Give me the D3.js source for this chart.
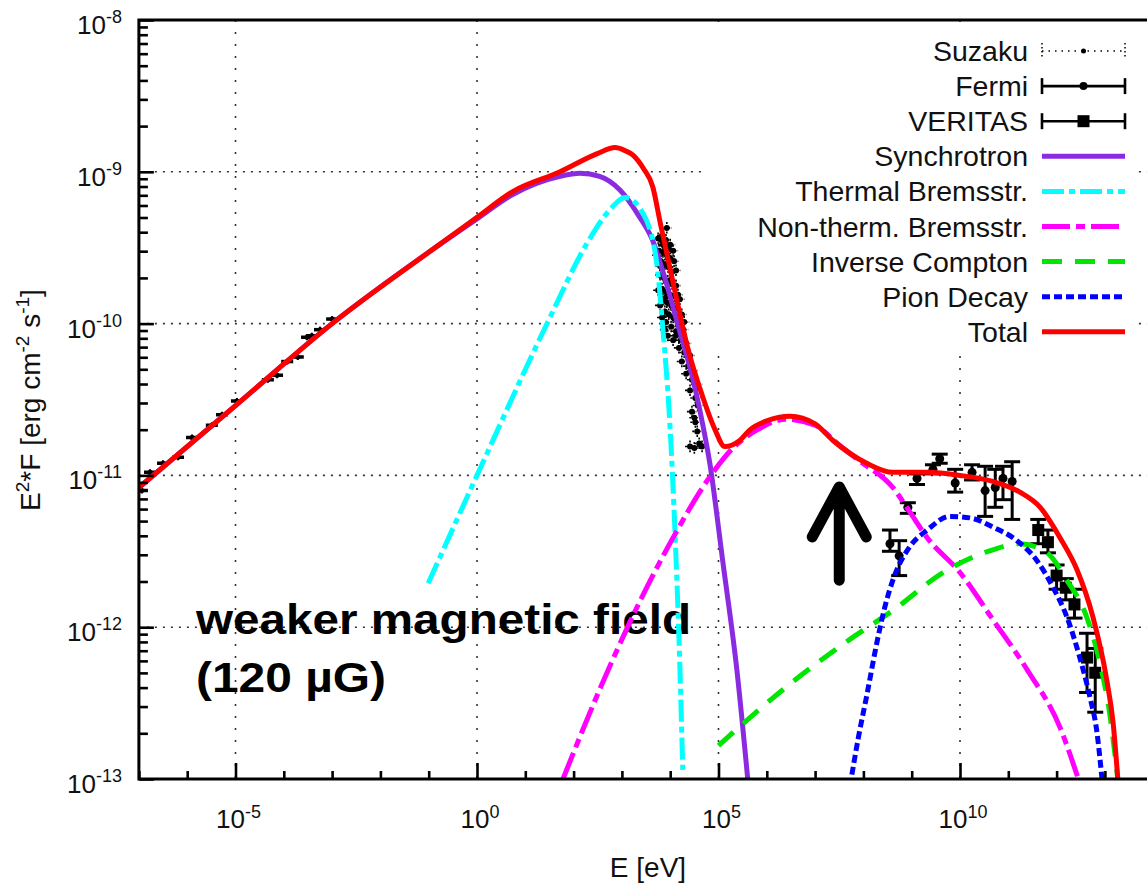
<!DOCTYPE html>
<html>
<head>
<meta charset="utf-8">
<script src="https://cdn.jsdelivr.net/npm/d3@7"></script>
<style>
  body { margin: 0; background: #fff; }
  svg { display: block; font-family: "Liberation Sans", Arial, Helvetica, sans-serif; }
</style>
</head>
<body>
<svg id="chart" width="1147" height="888"></svg>
<script>
// all values are log10 (E in eV, E^2F in erg cm^-2 s^-1)

// radio points (low energy end)
const radioLogE = [-6.94, -6.77, -6.50, -6.19, -5.90, -5.49, -5.28, -4.97, -4.33, -4.14, -3.93, -3.71, -3.52, -3.42, -3.25, -3.00];
const radioLogF = [-11.10, -10.98, -10.92, -10.88, -10.75, -10.67, -10.60, -10.51, -10.37, -10.34, -10.25, -10.22, -10.09, -10.08, -10.04, -9.97];

// Suzaku X-ray points
const suzakuLogE = [3.93, 3.81, 3.87, 3.93, 3.77, 3.85, 3.93, 4.00, 3.81, 3.89, 3.97, 4.04, 3.79, 3.87, 3.95, 4.04,
  3.83, 3.91, 4.00, 4.08, 3.85, 3.93, 4.02, 4.10, 3.89, 3.97, 4.06, 4.14, 4.20, 4.02, 4.12,
  4.27, 4.12, 4.22, 4.33, 4.18, 4.29, 4.41, 4.24, 4.37, 4.47, 4.33, 4.45, 4.56, 4.41, 4.52, 4.57,
  4.45, 4.50, 4.52, 4.56, 4.41, 4.50, 4.60, 4.66,
  3.75, 3.83, 3.91, 4.00, 4.06, 3.73, 3.79, 4.08, 4.12, 3.75, 4.12, 4.16, 3.79, 4.20, 3.83, 3.91,
  4.24, 3.95, 4.06, 4.29, 3.85, 3.97, 4.02, 3.93, 3.89];
const suzakuLogF = [-9.37, -9.45, -9.48, -9.50, -9.52, -9.53, -9.55, -9.57, -9.59, -9.61, -9.63, -9.66, -9.68, -9.70, -9.72, -9.74,
  -9.77, -9.79, -9.81, -9.82, -9.84, -9.86, -9.88, -9.90, -9.92, -9.94, -9.96, -9.98, -10.01, -10.02, -10.05,
  -10.04, -10.08, -10.11, -10.13, -10.16, -10.19, -10.21, -10.25, -10.28, -10.31, -10.33, -10.37, -10.40, -10.44, -10.49, -10.54,
  -10.58, -10.62, -10.65, -10.71, -10.81, -10.82, -10.79, -10.81,
  -9.44, -9.42, -9.45, -9.48, -9.52, -9.55, -9.62, -9.59, -9.65, -9.78, -9.75, -9.81, -9.88, -9.84, -9.96, -9.99,
  -9.94, -10.08, -10.11, -9.99, -9.48, -9.51, -9.71, -9.82, -10.04];

// Fermi
const fermiLogE  = [8.55, 8.74, 8.92, 9.11, 9.44, 9.58, 9.90, 10.25, 10.52, 10.73, 10.89, 11.08];
const fermiLogF  = [-11.45, -11.53, -11.21, -11.02, -10.96, -10.89, -11.05, -10.98, -11.10, -11.08, -11.02, -11.04];
const fermiLogHi = [-11.36, -11.43, -11.18, -10.99, -10.93, -10.86, -10.96, -10.93, -10.94, -10.96, -10.94, -10.91];
const fermiLogLo = [-11.50, -11.66, -11.25, -11.06, -10.99, -10.92, -11.11, -11.03, -11.27, -11.21, -11.16, -11.29];

// VERITAS
const veritasLogE  = [11.62, 11.82, 12.00, 12.19, 12.37, 12.63, 12.80];
const veritasLogF  = [-11.36, -11.44, -11.66, -11.74, -11.85, -12.20, -12.30];
const veritasLogHi = [-11.29, -11.36, -11.59, -11.68, -11.75, -12.04, -12.14];
const veritasLogLo = [-11.45, -11.51, -11.75, -11.82, -11.94, -12.43, -12.56];

// model curves
const synchLogE = [-7, -5, -3, -1, 0, 0.74, 1.72, 2.13, 2.54, 2.96, 3.37, 3.62, 3.89, 4.16, 4.45, 4.62, 4.82, 5.09, 5.38, 5.62];
const synchLogF = [-11.08, -10.54, -10.0, -9.53, -9.31, -9.15, -9.03, -9.01, -9.03, -9.12, -9.30, -9.44, -9.70, -10.01, -10.34, -10.58, -10.92, -11.57, -12.28, -13.05];

const thermLogE = [-1.01, 0, 1.45, 2.28, 2.75, 3.07, 3.43, 3.72, 3.85, 4.00, 4.10, 4.20, 4.26];
const thermLogF = [-11.71, -11.0, -10.0, -9.47, -9.25, -9.17, -9.27, -9.60, -10.04, -10.70, -11.38, -12.26, -12.94];

const nonthLogE = [1.78, 2.54, 3.31, 4.06, 4.82, 5.30, 5.80, 6.40, 7.00, 7.50, 7.90, 8.61, 8.96, 9.32, 10.0, 10.68, 11.39, 12.07, 12.45];
const nonthLogF = [-13.0, -12.41, -11.87, -11.41, -11.01, -10.82, -10.70, -10.63, -10.67, -10.80, -10.90, -11.08, -11.24, -11.41, -11.64, -11.95, -12.28, -12.66, -13.0];

const icLogE = [5.0, 6.34, 7.72, 8.61, 9.65, 10.68, 11.24, 11.80, 12.21, 12.62, 12.90, 13.10, 13.22, 13.30];
const icLogF = [-12.78, -12.41, -12.08, -11.89, -11.64, -11.49, -11.45, -11.51, -11.69, -11.93, -12.24, -12.57, -12.87, -13.1];

const pionLogE = [7.72, 7.90, 8.07, 8.28, 8.45, 8.61, 8.96, 9.32, 9.79, 10.21, 10.68, 11.18, 11.59, 11.93, 12.21, 12.48, 12.69, 12.83, 12.94];
const pionLogF = [-13.05, -12.72, -12.45, -12.10, -11.86, -11.69, -11.47, -11.36, -11.27, -11.28, -11.34, -11.43, -11.56, -11.74, -11.93, -12.20, -12.46, -12.68, -13.0];

const totalLogE = [-7, -5, -3, -1, 0, 0.74, 1.72, 2.49, 2.86, 3.06, 3.23, 3.45, 3.64, 3.79, 4.10, 4.37, 4.66, 4.93, 5.13, 5.44, 5.65,
  6.0, 6.48, 7.0, 7.37, 8.07, 8.61, 9.32, 10.0, 10.68, 11.24, 11.66, 12.07, 12.42, 12.75, 13.04, 13.17, 13.27];
const totalLogF = [-11.08, -10.54, -10.0, -9.53, -9.30, -9.13, -9.00, -8.88, -8.84, -8.86, -8.89, -8.98, -9.10, -9.33, -9.79, -10.17, -10.47, -10.70, -10.81, -10.77, -10.70,
  -10.64, -10.61, -10.66, -10.77, -10.92, -10.98, -10.98, -11.00, -11.04, -11.11, -11.21, -11.41, -11.62, -11.93, -12.35, -12.63, -13.01];

// axis ticks (exponents)
const xTickExp = [-5, 0, 5, 10];
const xMinorExp = [-7, -6, -4, -3, -2, -1, 1, 2, 3, 4, 6, 7, 8, 9, 11, 12, 13];
const yTickExp = [-13, -12, -11, -10, -9, -8];
const yGridExp = [-12, -11, -10, -9];

// arrow annotation
const arrowLogE = 7.5;
const arrowLogF = [-11.69, -11.076];

const legendLabels = ['Suzaku', 'Fermi', 'VERITAS', 'Synchrotron', 'Thermal Bremsstr.', 'Non-therm. Bremsstr.', 'Inverse Compton', 'Pion Decay', 'Total'];

const p10 = v => Math.pow(10, v);
const svg = d3.select('#chart');

const plotL = 138.9, plotR = 1153.2, plotT = 20, plotB = 779;
const x = d3.scaleLog().domain([1e-7, 1e14]).range([plotL, plotR]);
const y = d3.scaleLog().domain([1e-13, 1e-8]).range([plotB, plotT]);

svg.append('defs').append('clipPath').attr('id', 'plotArea')
  .append('rect').attr('x', plotL).attr('y', plotT).attr('width', plotR - plotL).attr('height', plotB - plotT);

// grid
const grid = svg.append('g').attr('stroke', '#333').attr('stroke-width', 1.6);
grid.selectAll('.gx').data(xTickExp).enter().append('line')
  .attr('x1', d => x(p10(d))).attr('x2', d => x(p10(d)))
  .attr('y1', plotT).attr('y2', plotB)
  .attr('stroke-dasharray', '2,10');
grid.selectAll('.gy').data(yGridExp).enter().append('line')
  .attr('x1', plotL).attr('x2', plotR)
  .attr('y1', d => y(p10(d))).attr('y2', d => y(p10(d)))
  .attr('stroke-dasharray', '2,6');

// opaque key box
svg.append('rect').attr('x', 703).attr('y', 22).attr('width', 432).attr('height', 330).attr('fill', '#fff');

// annotation text
svg.append('text').attr('x', 196).attr('y', 634).attr('font-size', 42).attr('font-weight', 'bold')
  .attr('textLength', 495).attr('lengthAdjust', 'spacingAndGlyphs').text('weaker magnetic field');
svg.append('text').attr('x', 196).attr('y', 692).attr('font-size', 42).attr('font-weight', 'bold')
  .attr('textLength', 190).attr('lengthAdjust', 'spacingAndGlyphs').text('(120 µG)');

const plot = svg.append('g').attr('clip-path', 'url(#plotArea)');

// radio points
const radio = plot.append('g');
radioLogE.forEach((e, i) => {
  const cx = x(p10(e)), cy = y(p10(radioLogF[i]));
  radio.append('line').attr('x1', cx - 6).attr('x2', cx + 6).attr('y1', cy).attr('y2', cy)
    .attr('stroke', '#000').attr('stroke-width', 3.5);
  radio.append('line').attr('x1', cx).attr('x2', cx).attr('y1', cy - 3).attr('y2', cy + 3)
    .attr('stroke', '#000').attr('stroke-width', 2);
  radio.append('circle').attr('cx', cx).attr('cy', cy).attr('r', 2.5).attr('fill', '#000');
});

// Suzaku
const suz = plot.append('g');
suzakuLogE.forEach((e, i) => {
  const cx = x(p10(e)), cy = y(p10(suzakuLogF[i]));
  suz.append('line').attr('x1', cx).attr('x2', cx).attr('y1', cy - 6).attr('y2', cy + 6)
    .attr('stroke', '#000').attr('stroke-width', 1.6).attr('stroke-dasharray', '2,1.2');
  suz.append('line').attr('x1', cx - 5).attr('x2', cx + 5).attr('y1', cy).attr('y2', cy)
    .attr('stroke', '#000').attr('stroke-width', 1.6).attr('stroke-dasharray', '2,1.2');
  suz.append('circle').attr('cx', cx).attr('cy', cy).attr('r', 3).attr('fill', '#000');
});

function errorPoints(logE, logF, logHi, logLo, square) {
  const g = plot.append('g').attr('stroke', '#000').attr('stroke-width', 3);
  logE.forEach((e, i) => {
    const cx = x(p10(e)), cy = y(p10(logF[i]));
    const yh = y(p10(logHi[i])), yl = y(p10(logLo[i]));
    g.append('line').attr('x1', cx).attr('x2', cx).attr('y1', yh).attr('y2', yl);
    g.append('line').attr('x1', cx - 8).attr('x2', cx + 8).attr('y1', yh).attr('y2', yh);
    g.append('line').attr('x1', cx - 8).attr('x2', cx + 8).attr('y1', yl).attr('y2', yl);
    if (square) {
      g.append('rect').attr('x', cx - 6).attr('y', cy - 6).attr('width', 12).attr('height', 12)
        .attr('fill', '#000').attr('stroke', 'none');
    } else {
      g.append('circle').attr('cx', cx).attr('cy', cy).attr('r', 4.5).attr('fill', '#000').attr('stroke', 'none');
    }
  });
}
errorPoints(fermiLogE, fermiLogF, fermiLogHi, fermiLogLo, false);
errorPoints(veritasLogE, veritasLogF, veritasLogHi, veritasLogLo, true);

// model curves
const line = d3.line().x(d => x(p10(d[0]))).y(d => y(p10(d[1]))).curve(d3.curveMonotoneX);
const curves = [
  { e: synchLogE, f: synchLogF, color: '#8a2be2', dash: null },
  { e: thermLogE, f: thermLogF, color: '#00ffff', dash: '22,5,6,5' },
  { e: nonthLogE, f: nonthLogF, color: '#ff00ff', dash: '28,6,9,6' },
  { e: icLogE, f: icLogF, color: '#00e600', dash: '20,13' },
  { e: pionLogE, f: pionLogF, color: '#0000ff', dash: '8,4' },
  { e: totalLogE, f: totalLogF, color: '#ff0000', dash: null }
];
curves.forEach(c => {
  plot.append('path')
    .datum(d3.zip(c.e, c.f))
    .attr('d', line)
    .attr('fill', 'none')
    .attr('stroke', c.color)
    .attr('stroke-width', 5)
    .attr('stroke-dasharray', c.dash);
});

// arrow
const ax = x(p10(arrowLogE)), ay0 = y(p10(arrowLogF[0])), ay1 = y(p10(arrowLogF[1]));
svg.append('path')
  .attr('d', `M${ax},${ay0}L${ax},${ay1 + 4}M${ax - 27},${ay1 + 50}L${ax},${ay1}L${ax + 27},${ay1 + 50}`)
  .attr('fill', 'none').attr('stroke', '#000').attr('stroke-width', 11)
  .attr('stroke-linecap', 'round').attr('stroke-linejoin', 'round');

// axes ticks (inward, gnuplot style)
const yMinorVals = [];
yTickExp.slice(0, -1).forEach(e => { for (let m = 2; m <= 9; m++) yMinorVals.push(m * p10(e)); });

function styleAxis(g) {
  g.select('.domain').remove();
  g.selectAll('line').attr('stroke', '#000').attr('stroke-width', 2.6);
}
svg.append('g').attr('transform', `translate(${plotL},0)`)
  .call(d3.axisRight(y).tickValues(yTickExp.map(p10)).tickSize(15).tickSizeOuter(0).tickFormat(''))
  .call(styleAxis);
svg.append('g').attr('transform', `translate(${plotL},0)`)
  .call(d3.axisRight(y).tickValues(yMinorVals).tickSize(9).tickSizeOuter(0).tickFormat(''))
  .call(styleAxis);
svg.append('g').attr('transform', `translate(0,${plotB})`)
  .call(d3.axisTop(x).tickValues(xTickExp.map(p10)).tickSize(16).tickSizeOuter(0).tickFormat(''))
  .call(styleAxis);
svg.append('g').attr('transform', `translate(0,${plotB})`)
  .call(d3.axisTop(x).tickValues(xMinorExp.map(p10)).tickSize(8).tickSizeOuter(0).tickFormat(''))
  .call(styleAxis);

// border
svg.append('path')
  .attr('d', `M${plotR},${plotT}L${plotL},${plotT}L${plotL},${plotB}L${plotR},${plotB}`)
  .attr('fill', 'none').attr('stroke', '#000').attr('stroke-width', 3);

// tick labels
yTickExp.forEach(e => {
  const t = svg.append('text').attr('x', 122).attr('y', y(p10(e)) + 14)
    .attr('text-anchor', 'end').attr('font-size', 26).attr('fill', '#111');
  t.append('tspan').text('10');
  t.append('tspan').attr('font-size', 18).attr('dy', -11).text(String(e));
});
xTickExp.forEach(e => {
  const t = svg.append('text').attr('x', x(p10(e)) + 3).attr('y', 828)
    .attr('text-anchor', 'middle').attr('font-size', 26).attr('fill', '#111');
  t.append('tspan').text('10');
  t.append('tspan').attr('font-size', 18).attr('dy', -10).text(String(e));
});

// axis titles
svg.append('text').attr('x', 648).attr('y', 877).attr('text-anchor', 'middle')
  .attr('font-size', 28).attr('fill', '#111').text('E [eV]');
const yLab = svg.append('text').attr('transform', 'translate(40,400) rotate(-90)')
  .attr('text-anchor', 'middle').attr('font-size', 28).attr('fill', '#111');
yLab.append('tspan').text('E');
yLab.append('tspan').attr('font-size', 19).attr('dy', -11).text('2');
yLab.append('tspan').attr('dy', 11).text('*F [erg cm');
yLab.append('tspan').attr('font-size', 19).attr('dy', -11).text('-2');
yLab.append('tspan').attr('dy', 11).text(' s');
yLab.append('tspan').attr('font-size', 19).attr('dy', -11).text('-1');
yLab.append('tspan').attr('dy', 11).text(']');

// legend
const key = svg.append('g');
const kx0 = 1042, kx1 = 1125, kxm = (kx0 + kx1) / 2;
legendLabels.forEach((lab, i) => {
  const ky = 51 + i * 35.1;
  key.append('text').attr('x', 1028).attr('y', ky + 10).attr('text-anchor', 'end')
    .attr('font-size', 28.5).attr('fill', '#111').text(lab);
  if (i < 3) {
    const g = key.append('g').attr('stroke', '#000');
    const dash = i === 0 ? '1.5,5' : null;
    const sw = i === 0 ? 1.5 : 2.6;
    g.append('line').attr('x1', kx0).attr('x2', kx1).attr('y1', ky).attr('y2', ky)
      .attr('stroke-width', sw).attr('stroke-dasharray', dash);
    [kx0, kx1].forEach(cx => g.append('line').attr('x1', cx).attr('x2', cx)
      .attr('y1', ky - 8).attr('y2', ky + 8).attr('stroke-width', sw).attr('stroke-dasharray', i === 0 ? '1.5,2.5' : null));
    if (i === 2) {
      g.append('rect').attr('x', kxm - 6).attr('y', ky - 6).attr('width', 12).attr('height', 12).attr('fill', '#000').attr('stroke', 'none');
    } else {
      g.append('circle').attr('cx', kxm).attr('cy', ky).attr('r', i === 0 ? 2.5 : 4).attr('fill', '#000').attr('stroke', 'none');
    }
  } else {
    const c = curves[i - 3];
    key.append('line').attr('x1', kx0).attr('x2', kx1).attr('y1', ky).attr('y2', ky)
      .attr('stroke', c.color).attr('stroke-width', 5).attr('stroke-dasharray', c.dash);
  }
});
</script>
</body>
</html>
